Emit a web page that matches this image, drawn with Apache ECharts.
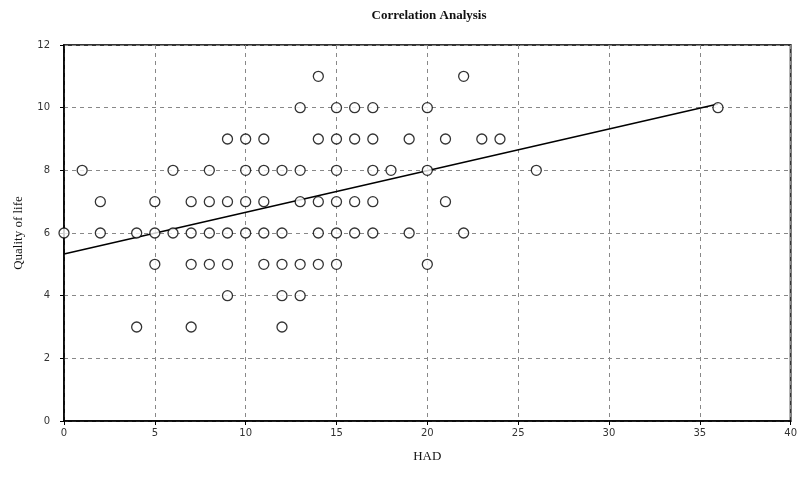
<!DOCTYPE html>
<html>
<head>
<meta charset="utf-8">
<script src="https://cdn.jsdelivr.net/npm/echarts@6/dist/echarts.min.js"></script>
<style>html,body{margin:0;padding:0;background:#fff}#c{width:800px;height:489px}</style>
</head>
<body>
<div id="c"></div>
<script>
// HAD (x) and Quality of life (y) observations
const hadValues = [
  14,22,
  13,15,16,17,20,36,
  9,10,11,14,15,16,17,19,21,23,24,
  1,6,8,10,11,12,13,15,17,18,20,26,
  2,5,7,8,9,10,11,13,14,15,16,17,21,
  0,2,4,5,6,7,8,9,10,11,12,14,15,16,17,19,22,
  5,7,8,9,11,12,13,14,15,20,
  9,12,13,
  4,7,12
];
const qolValues = [
  11,11,
  10,10,10,10,10,10,
  9,9,9,9,9,9,9,9,9,9,9,
  8,8,8,8,8,8,8,8,8,8,8,8,
  7,7,7,7,7,7,7,7,7,7,7,7,7,
  6,6,6,6,6,6,6,6,6,6,6,6,6,6,6,6,6,
  5,5,5,5,5,5,5,5,5,5,
  4,4,4,
  3,3,3
];
// Linear trend line endpoints
const trendX = [0, 36];
const trendY = [5.33, 10.12];

const xTicks = [0,5,10,15,20,25,30,35,40];
const yTicks = [0,2,4,6,8,10,12];

const points = hadValues.map((x, i) => [x, qolValues[i]]);
const trend = trendX.map((x, i) => [x, trendY[i]]);

const chart = echarts.init(document.getElementById('c'));
chart.setOption({
  animation: false,
  backgroundColor: '#fff',
  title: {
    text: 'Correlation Analysis',
    left: 424, top: 4, textAlign: 'center',
    textStyle: {fontFamily: 'Liberation Serif', fontSize: 13, fontWeight: 'bold', color: '#111'}
  },
  grid: {left: 64, right: 8, top: 45, bottom: 68, show: true, borderColor: '#333', borderWidth: 2, backgroundColor: 'transparent'},
  xAxis: {
    type: 'value', min: xTicks[0], max: xTicks[xTicks.length-1], interval: 5,
    name: 'HAD', nameLocation: 'middle', nameGap: 29,
    nameTextStyle: {fontFamily: 'Liberation Serif', fontSize: 13, color: '#111'},
    axisLine: {show: true, onZero: false, lineStyle: {color: '#000', width: 1.5}},
    axisTick: {show: true, length: 4, lineStyle: {color: '#000'}},
    axisLabel: {fontFamily: 'DejaVu Sans', fontSize: 10, color: '#333', margin: 7},
    splitLine: {show: true, lineStyle: {color: '#888', type: [4, 4], width: 1}}
  },
  yAxis: {
    type: 'value', min: yTicks[0], max: yTicks[yTicks.length-1], interval: 2,
    name: 'Quality of life', nameLocation: 'middle', nameGap: 39,
    nameTextStyle: {fontFamily: 'Liberation Serif', fontSize: 13, color: '#111'},
    axisLine: {show: true, lineStyle: {color: '#000', width: 1.5}},
    axisTick: {show: true, length: 4, lineStyle: {color: '#000'}},
    axisLabel: {fontFamily: 'DejaVu Sans', fontSize: 10, color: '#333', margin: 14},
    splitLine: {show: true, lineStyle: {color: '#888', type: [4, 4], width: 1}}
  },
  series: [
    {
      type: 'line', data: trend, symbol: 'none', z: 2,
      lineStyle: {color: '#000', width: 1.5}
    },
    {
      type: 'scatter', data: points, symbol: 'circle', symbolSize: 10, z: 3,
      itemStyle: {color: '#fff', borderColor: '#000', borderWidth: 1.3}
    }
  ]
});
</script>
</body>
</html>
